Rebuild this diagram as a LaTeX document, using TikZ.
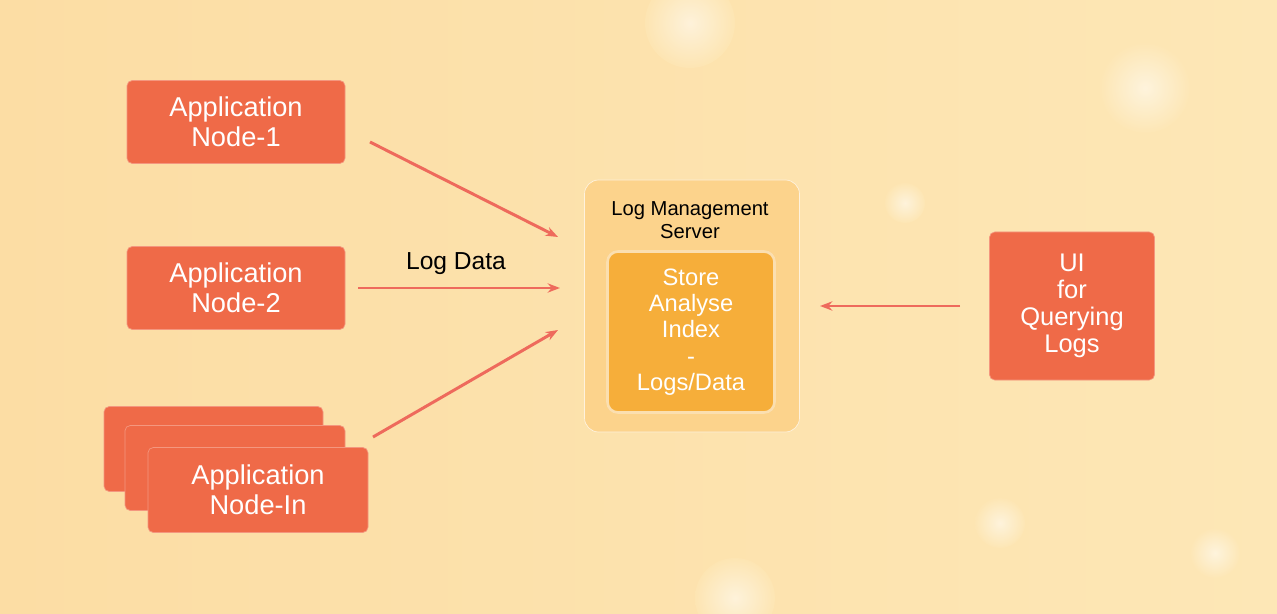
\documentclass[tikz,border=0pt]{standalone}
\usepackage{fontspec}
\setmainfont{Liberation Sans}
\usetikzlibrary{arrows.meta, positioning}

\definecolor{bgA}{HTML}{FCDDA4}
\definecolor{bgB}{HTML}{FDE7B6}
\definecolor{nodeRed}{HTML}{EF6A48}
\definecolor{arrowRed}{HTML}{EE6A5C}
\definecolor{srvFill}{HTML}{FCD38C}
\definecolor{innerFill}{HTML}{F6AE3A}

\tikzset{
	appbox/.style={
		rectangle, rounded corners=3pt, fill=nodeRed, draw=nodeRed!70!white,
		text=white, align=center, font=\fontsize{15.5}{17}\selectfont,
		minimum width=4.36cm, minimum height=1.66cm
	},
	flow/.style={
		draw=arrowRed, line width=1.7pt, -{Stealth[length=7pt]}
	}
}

\begin{document}
\begin{tikzpicture}
	% Hintergrund
	\shade[left color=bgA, right color=bgB] (0,0) rectangle (25.54,12.26);
	\useasboundingbox (0,0) rectangle (25.54,12.26);
	\foreach \x/\y/\r in {13.8/11.8/0.9, 22.9/10.5/0.9, 18.1/8.2/0.4, 20.0/1.8/0.5, 24.3/1.2/0.5, 14.7/0.3/0.8}
		\shade[inner color=white!90!bgB, outer color=bgB, opacity=0.6] (\x,\y) circle (\r);

	% Anwendungen
	\node[appbox] (app1) at (4.72,9.82) {Application\\Node-1};
	\node[appbox] (app2) at (4.72,6.50) {Application\\Node-2};
	\node[appbox, minimum width=4.38cm, minimum height=1.7cm] (appNc) at (4.27,3.28) {};
	\node[appbox, minimum width=4.4cm, minimum height=1.7cm] (appNb) at (4.70,2.90) {};
	\node[appbox, minimum width=4.4cm, minimum height=1.7cm] (appN) at (5.16,2.46) {Application\\Node-In};

	% Server
	\node[
		rectangle, rounded corners=8pt, fill=srvFill, draw=white!70!srvFill,
		minimum width=4.3cm, minimum height=5.04cm
	] (server) at (13.84,6.14) {};
	\node[font=\fontsize{11.5}{13}\selectfont, align=center] (srvlabel) at (13.8,7.86) {Log Management\\Server};
	\node[
		appbox, fill=innerFill, draw=white!60!innerFill, line width=1.5pt,
		minimum width=3.34cm, minimum height=3.22cm, rounded corners=6pt,
		font=\fontsize{13.5}{15}\selectfont
	] (store) at (13.82,5.62) {Store\\Analyse\\Index\\-\\Logs/Data};

	% UI
	\node[appbox, minimum width=3.3cm, minimum height=2.96cm, font=\fontsize{14.5}{15.5}\selectfont]
		(ui) at (21.44,6.14) {UI\\for\\Querying\\Logs};

	% Pfeile
	\coordinate (a1s) at (7.40,9.42);
	\coordinate (a1e) at (11.16,7.52);
	\coordinate (a2s) at (7.16,6.50);
	\coordinate (a2e) at (11.20,6.50);
	\coordinate (a3s) at (7.46,3.52);
	\coordinate (a3e) at (11.16,5.66);
	\coordinate (uis) at (19.20,6.14);
	\coordinate (uie) at (16.40,6.14);
	\draw[flow] (a1s) -- (a1e);
	\draw[flow] (a2s) -- (a2e);
	\draw[flow] (a3s) -- (a3e);
	\draw[flow] (uis) -- (uie);
	\node[font=\fontsize{14}{16}\selectfont] (logdata) at (9.12,6.99) {Log Data};
\end{tikzpicture}
\end{document}
